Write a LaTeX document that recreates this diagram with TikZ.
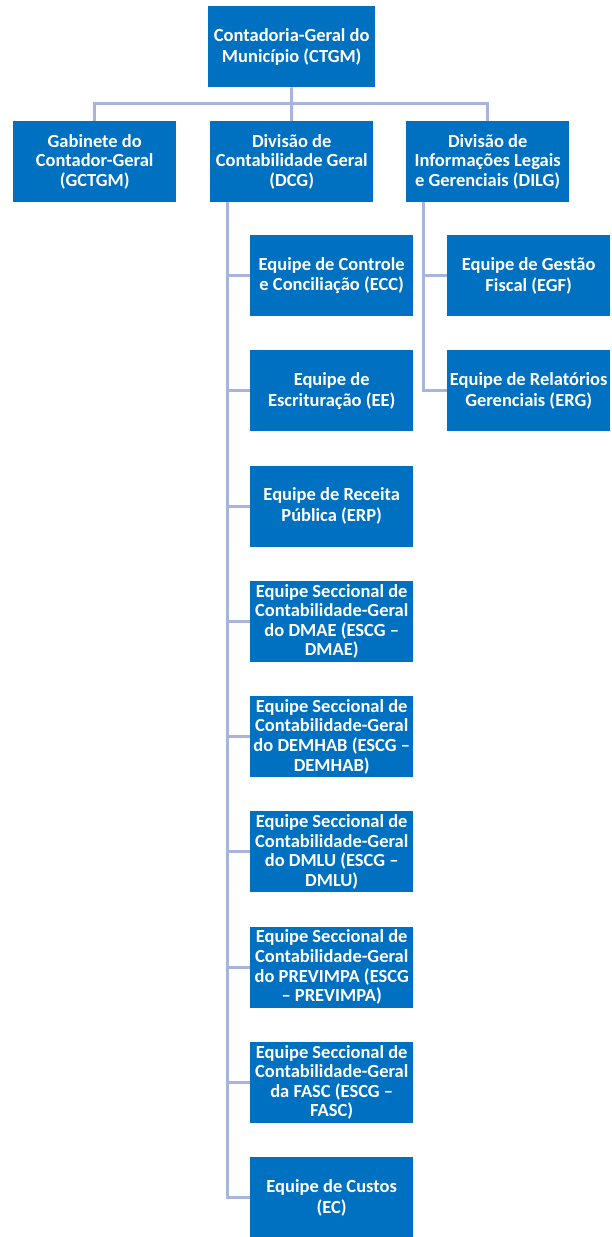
\documentclass[tikz,border=0pt]{standalone}
\usepackage{fontspec}
\setmainfont{Carlito}
\definecolor{boxblue}{RGB}{0,112,192}
\definecolor{linkblue}{RGB}{166,180,222}
\begin{document}
\begin{tikzpicture}[x=1pt,y=-1pt,
  unit/.style={draw=none,fill=boxblue,text=white,font=\fontsize{18.5pt}{19.6pt}\selectfont\bfseries,
    align=center,minimum width=163pt,minimum height=81pt,inner sep=0pt,anchor=north west},
  link/.style={draw=linkblue,line width=3pt}]
\useasboundingbox (0,0) rectangle (612,1237);
% top
\node[unit,minimum width=167pt] (ctgm) at (208,6) {Contadoria-Geral do\\[1pt]Município (CTGM)};
% second row
\node[unit] (gctgm) at (13,121) {Gabinete do\\Contador-Geral\\(GCTGM)};
\node[unit] (dcg) at (210,121) {Divisão de\\Contabilidade Geral\\(DCG)};
\node[unit] (dilg) at (406,121) {Divisão de\\Informações Legais\\e Gerenciais (DILG)};
% DCG teams
\node[unit] (ecc) at (250,235) {Equipe de Controle\\[1pt]e Conciliação (ECC)};
\node[unit] (ee) at (250,350.25) {Equipe de\\[1pt]Escrituração (EE)};
\node[unit] (erp) at (250,465.5) {Equipe de Receita\\[1pt]Pública (ERP)};
\node[unit] (dmae) at (250,580.75) {Equipe Seccional de\\Contabilidade-Geral\\do DMAE (ESCG –\\DMAE)};
\node[unit] (demhab) at (250,696) {Equipe Seccional de\\Contabilidade-Geral\\do DEMHAB (ESCG –\\DEMHAB)};
\node[unit] (dmlu) at (250,811.25) {Equipe Seccional de\\Contabilidade-Geral\\do DMLU (ESCG –\\DMLU)};
\node[unit] (previmpa) at (250,926.5) {Equipe Seccional de\\Contabilidade-Geral\\do PREVIMPA (ESCG\\– PREVIMPA)};
\node[unit] (fasc) at (250,1041.75) {Equipe Seccional de\\Contabilidade-Geral\\da FASC (ESCG –\\FASC)};
\node[unit] (ec) at (250,1157) {Equipe de Custos\\[1pt](EC)};
% DILG teams
\node[unit] (egf) at (447,235) {Equipe de Gestão\\[1pt]Fiscal (EGF)};
\node[unit] (erg) at (447,350.25) {Equipe de Relatórios\\[1pt]Gerenciais (ERG)};
% connectors
\coordinate (hub) at (291.5,103);
\coordinate (dcgtrunk) at (227,202);
\coordinate (dilgtrunk) at (423,202);
\draw[link] (ctgm.south) -- (hub);
\draw[link] (hub) -| (gctgm.north);
\draw[link] (hub) -| (dilg.north);
\draw[link] (hub) -- (dcg.north);
\foreach \n in {ecc,ee,erp,dmae,demhab,dmlu,previmpa,fasc,ec}
  \draw[link] (dcgtrunk) |- (\n.west);
\foreach \n in {egf,erg}
  \draw[link] (dilgtrunk) |- (\n.west);
\end{tikzpicture}
\end{document}
